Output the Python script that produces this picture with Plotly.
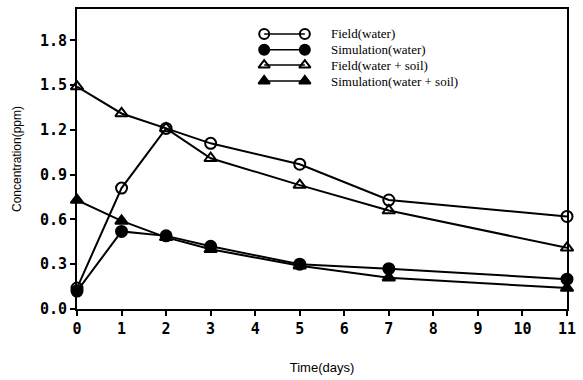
import plotly.graph_objects as go

days = [0, 1, 2, 3, 5, 7, 11]
field_water = [0.14, 0.81, 1.21, 1.11, 0.97, 0.73, 0.62]
sim_water = [0.12, 0.52, 0.49, 0.42, 0.30, 0.27, 0.20]
field_ws = [1.49, 1.31, 1.21, 1.01, 0.83, 0.66, 0.41]
sim_ws = [0.73, 0.59, 0.48, 0.40, 0.29, 0.21, 0.14]

names = ["Field(water)", "Simulation(water)", "Field(water + soil)", "Simulation(water + soil)"]
series = [field_water, sim_water, field_ws, sim_ws]
symbols = ["circle-open", "circle", "triangle-up-open", "triangle-up"]

x_ticks = list(range(0, 12))
y_ticks = [0.0, 0.3, 0.6, 0.9, 1.2, 1.5, 1.8]

fig = go.Figure()
for name, ys, sym in zip(names, series, symbols):
    fig.add_trace(go.Scatter(
        x=days, y=ys, mode="lines+markers", name=name, showlegend=False,
        line=dict(color="black", width=2),
        marker=dict(symbol=sym, size=11, color="black", line=dict(color="black", width=2)),
        cliponaxis=False,
    ))

# custom legend (marker — marker, then label)
leg_x = [0.382, 0.465]
leg_text_x = 0.515
leg_y = [0.917, 0.864, 0.813, 0.760]
for name, sym, yy in zip(names, symbols, leg_y):
    fig.add_trace(go.Scatter(
        x=leg_x, y=[yy, yy], xaxis="x2", yaxis="y2", mode="lines+markers", showlegend=False,
        line=dict(color="black", width=1.5),
        marker=dict(symbol=sym, size=10, color="black", line=dict(color="black", width=2)),
        hoverinfo="skip",
    ))
    fig.add_annotation(x=leg_text_x, y=yy, xref="x2", yref="y2", text=name, showarrow=False,
                       xanchor="left", yanchor="middle",
                       font=dict(family="Liberation Serif", size=13, color="black"))

tickfont = dict(family="DejaVu Sans Mono", size=15, color="black", weight="bold")
fig.update_layout(
    width=583, height=380,
    margin=dict(l=77, r=11, t=7, b=71),
    paper_bgcolor="white", plot_bgcolor="white",
    xaxis=dict(range=[0, 11], tickvals=x_ticks, ticktext=[str(v) for v in x_ticks],
               showline=True, linecolor="black", linewidth=2, mirror=True,
               ticks="outside", ticklen=5, tickwidth=2, tickcolor="black",
               showgrid=False, zeroline=False, tickfont=tickfont,
               title=dict(text="Time(days)", standoff=26,
                          font=dict(family="Liberation Sans", size=13, color="black"))),
    yaxis=dict(range=[0, 2.01], tickvals=y_ticks, ticktext=[f"{v:.1f}" for v in y_ticks],
               showline=True, linecolor="black", linewidth=2, mirror=True,
               ticks="outside", ticklen=5, tickwidth=2, tickcolor="black",
               showgrid=False, zeroline=False, tickfont=tickfont,
               title=dict(text="Concentration(ppm)", standoff=16,
                          font=dict(family="Liberation Sans", size=12, color="black"))),
    xaxis2=dict(overlaying="x", range=[0, 1], visible=False, fixedrange=True),
    yaxis2=dict(overlaying="y", range=[0, 1], visible=False, fixedrange=True),
)

fig.write_html("out.html")
